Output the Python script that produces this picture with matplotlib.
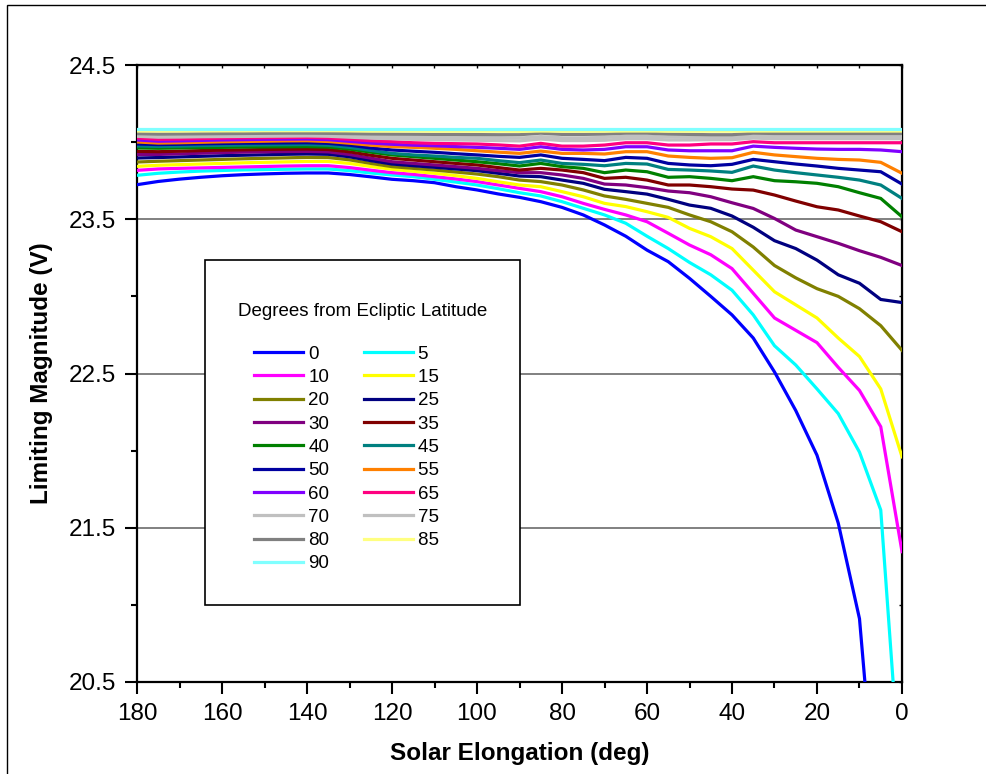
import matplotlib
matplotlib.use("Agg")
import matplotlib.pyplot as plt
from matplotlib.patches import Rectangle
from matplotlib.ticker import MultipleLocator, FixedLocator

plt.rcParams['font.family'] = ['Liberation Sans', 'DejaVu Sans']

# ---------------- data ----------------
elongation = [180, 175, 170, 165, 160, 155, 150, 145, 140, 135, 130, 125, 120,
              115, 110, 105, 100, 95, 90, 85, 80, 75, 70, 65, 60, 55, 50, 45,
              40, 35, 30, 25, 20, 15, 10, 5, 0]

latitudes = ["0", "5", "10", "15", "20", "25", "30", "35", "40", "45",
             "50", "55", "60", "65", "70", "75", "80", "85", "90"]

colors = ['#0000FF', '#00FFFF', '#FF00FF', '#FFFF00', '#808000', '#000080',
          '#800080', '#800000', '#008000', '#008080', '#0000A0', '#FF8000',
          '#8000FF', '#FF0080', '#C0C0C0', '#C0C0C0', '#808080', '#FFFF80',
          '#80FFFF']

mag_00 = [23.724, 23.745, 23.760, 23.772, 23.782, 23.789, 23.794, 23.798, 23.800,
          23.800, 23.790, 23.775, 23.759, 23.750, 23.737, 23.711, 23.690, 23.664,
          23.642, 23.614, 23.577, 23.528, 23.463, 23.390, 23.300, 23.225, 23.117,
          23.000, 22.880, 22.730, 22.510, 22.260, 21.970, 21.530, 20.910, 19.300,
          17.500]
mag_05 = [23.785, 23.798, 23.806, 23.812, 23.816, 23.820, 23.822, 23.824, 23.826,
          23.826, 23.815, 23.800, 23.787, 23.776, 23.759, 23.741, 23.722, 23.698,
          23.672, 23.651, 23.614, 23.571, 23.528, 23.474, 23.390, 23.310, 23.220,
          23.140, 23.040, 22.880, 22.680, 22.555, 22.400, 22.240, 21.990, 21.615,
          19.700]
mag_10 = [23.817, 23.826, 23.830, 23.833, 23.836, 23.839, 23.842, 23.845, 23.847,
          23.847, 23.835, 23.818, 23.802, 23.791, 23.776, 23.761, 23.744, 23.722,
          23.700, 23.679, 23.646, 23.603, 23.564, 23.528, 23.484, 23.409, 23.333,
          23.270, 23.180, 23.020, 22.860, 22.780, 22.700, 22.540, 22.390, 22.155,
          21.345]
mag_15 = [23.843, 23.850, 23.854, 23.858, 23.862, 23.866, 23.869, 23.872, 23.875,
          23.875, 23.862, 23.842, 23.824, 23.811, 23.798, 23.783, 23.765, 23.743,
          23.722, 23.711, 23.679, 23.646, 23.603, 23.582, 23.549, 23.512, 23.441,
          23.387, 23.310, 23.170, 23.030, 22.945, 22.860, 22.730, 22.610, 22.400,
          21.960]
mag_20 = [23.871, 23.876, 23.880, 23.884, 23.888, 23.892, 23.895, 23.898, 23.901,
          23.900, 23.885, 23.862, 23.841, 23.830, 23.819, 23.806, 23.793, 23.776,
          23.754, 23.744, 23.722, 23.690, 23.651, 23.629, 23.603, 23.577, 23.528,
          23.484, 23.419, 23.320, 23.200, 23.120, 23.050, 23.000, 22.920, 22.810,
          22.650]
mag_25 = [23.897, 23.900, 23.904, 23.908, 23.912, 23.915, 23.918, 23.921, 23.923,
          23.921, 23.905, 23.880, 23.858, 23.847, 23.837, 23.826, 23.815, 23.798,
          23.780, 23.776, 23.754, 23.733, 23.694, 23.679, 23.663, 23.629, 23.592,
          23.571, 23.521, 23.448, 23.361, 23.310, 23.235, 23.140, 23.085, 22.980,
          22.960]
mag_30 = [23.919, 23.920, 23.924, 23.928, 23.932, 23.935, 23.937, 23.939, 23.940,
          23.937, 23.920, 23.896, 23.873, 23.862, 23.852, 23.841, 23.830, 23.815,
          23.802, 23.802, 23.787, 23.765, 23.728, 23.722, 23.705, 23.683, 23.672,
          23.646, 23.607, 23.570, 23.505, 23.430, 23.387, 23.344, 23.296, 23.253,
          23.200]
mag_35 = [23.940, 23.938, 23.941, 23.945, 23.948, 23.950, 23.952, 23.954, 23.955,
          23.952, 23.937, 23.915, 23.895, 23.884, 23.873, 23.862, 23.852, 23.835,
          23.819, 23.830, 23.819, 23.802, 23.765, 23.772, 23.754, 23.722, 23.722,
          23.711, 23.696, 23.689, 23.657, 23.618, 23.581, 23.560, 23.521, 23.484,
          23.419]
mag_40 = [23.962, 23.960, 23.962, 23.964, 23.966, 23.968, 23.969, 23.970, 23.971,
          23.968, 23.955, 23.935, 23.917, 23.906, 23.895, 23.884, 23.873, 23.860,
          23.845, 23.862, 23.841, 23.830, 23.802, 23.819, 23.808, 23.772, 23.776,
          23.765, 23.750, 23.776, 23.750, 23.743, 23.733, 23.711, 23.672, 23.635,
          23.516]
mag_45 = [23.975, 23.972, 23.974, 23.977, 23.979, 23.981, 23.982, 23.983, 23.984,
          23.980, 23.966, 23.946, 23.927, 23.917, 23.910, 23.901, 23.895, 23.880,
          23.867, 23.884, 23.862, 23.856, 23.847, 23.862, 23.858, 23.823, 23.819,
          23.813, 23.804, 23.845, 23.819, 23.802, 23.787, 23.772, 23.754, 23.722,
          23.635]
mag_50 = [23.988, 23.984, 23.986, 23.989, 23.991, 23.993, 23.994, 23.995, 23.996,
          23.992, 23.980, 23.962, 23.949, 23.941, 23.934, 23.925, 23.917, 23.908,
          23.901, 23.917, 23.895, 23.888, 23.880, 23.901, 23.895, 23.862, 23.852,
          23.847, 23.856, 23.888, 23.873, 23.858, 23.845, 23.830, 23.819, 23.808,
          23.728]
mag_55 = [24.001, 23.994, 23.996, 23.999, 24.002, 24.004, 24.006, 24.008, 24.009,
          24.004, 23.993, 23.980, 23.971, 23.966, 23.960, 23.953, 23.944, 23.935,
          23.927, 23.942, 23.927, 23.927, 23.923, 23.938, 23.938, 23.910, 23.901,
          23.895, 23.899, 23.934, 23.917, 23.906, 23.895, 23.888, 23.884, 23.869,
          23.798]
mag_60 = [24.014, 24.006, 24.008, 24.011, 24.014, 24.016, 24.018, 24.019, 24.020,
          24.016, 24.005, 23.994, 23.986, 23.980, 23.976, 23.971, 23.966, 23.960,
          23.953, 23.970, 23.953, 23.949, 23.953, 23.970, 23.970, 23.949, 23.944,
          23.944, 23.944, 23.974, 23.966, 23.960, 23.955, 23.953, 23.953, 23.949,
          23.938]
mag_65 = [24.027, 24.018, 24.020, 24.023, 24.026, 24.028, 24.029, 24.030, 24.031,
          24.027, 24.018, 24.009, 24.003, 23.996, 23.992, 23.990, 23.988, 23.982,
          23.974, 23.992, 23.974, 23.974, 23.981, 23.996, 23.996, 23.981, 23.981,
          23.988, 23.988, 24.003, 23.996, 23.996, 23.996, 23.996, 23.996, 23.996,
          23.996]
mag_70 = [24.038, 24.032, 24.033, 24.035, 24.036, 24.037, 24.038, 24.039, 24.040,
          24.038, 24.032, 24.026, 24.022, 24.018, 24.016, 24.014, 24.012, 24.010,
          24.008, 24.020, 24.010, 24.010, 24.012, 24.022, 24.022, 24.014, 24.014,
          24.016, 24.016, 24.026, 24.022, 24.022, 24.022, 24.022, 24.022, 24.022,
          24.022]
mag_75 = [24.046, 24.042, 24.043, 24.045, 24.046, 24.047, 24.048, 24.049, 24.050,
          24.048, 24.044, 24.040, 24.036, 24.033, 24.031, 24.030, 24.029, 24.028,
          24.026, 24.036, 24.028, 24.028, 24.030, 24.038, 24.038, 24.032, 24.031,
          24.032, 24.032, 24.040, 24.038, 24.038, 24.038, 24.038, 24.038, 24.038,
          24.038]
mag_80 = [24.055, 24.052, 24.053, 24.054, 24.055, 24.056, 24.057, 24.058, 24.058,
          24.057, 24.055, 24.053, 24.052, 24.051, 24.050, 24.050, 24.049, 24.048,
          24.048, 24.058, 24.050, 24.050, 24.052, 24.058, 24.058, 24.052, 24.050,
          24.048, 24.048, 24.058, 24.056, 24.056, 24.056, 24.056, 24.056, 24.056,
          24.056]
mag_85 = [24.072, 24.072, 24.072, 24.073, 24.073, 24.073, 24.074, 24.074, 24.074,
          24.074, 24.073, 24.072, 24.072, 24.072, 24.071, 24.071, 24.071, 24.071,
          24.070, 24.072, 24.071, 24.071, 24.071, 24.072, 24.072, 24.071, 24.071,
          24.071, 24.071, 24.072, 24.072, 24.072, 24.072, 24.072, 24.072, 24.072,
          24.072]
mag_90 = [24.088, 24.088, 24.088, 24.088, 24.088, 24.088, 24.088, 24.088, 24.088,
          24.088, 24.088, 24.088, 24.088, 24.088, 24.088, 24.088, 24.088, 24.088,
          24.088, 24.088, 24.088, 24.088, 24.088, 24.088, 24.088, 24.088, 24.088,
          24.088, 24.088, 24.088, 24.088, 24.088, 24.088, 24.088, 24.088, 24.088,
          24.088]

series = [mag_00, mag_05, mag_10, mag_15, mag_20, mag_25, mag_30, mag_35, mag_40,
          mag_45, mag_50, mag_55, mag_60, mag_65, mag_70, mag_75, mag_80, mag_85,
          mag_90]

x_ticks = [180, 160, 140, 120, 100, 80, 60, 40, 20, 0]
y_ticks = [20.5, 21.5, 22.5, 23.5, 24.5]

# ---------------- figure ----------------
W, H = 987, 774
fig = plt.figure(figsize=(W / 100, H / 100), dpi=100)
ax = fig.add_axes([137 / W, 1 - 682 / H, (902 - 137) / W, (682 - 65) / H])

lines = []
for vals, lab, col in zip(series, latitudes, colors):
    ln, = ax.plot(elongation, vals, color=col, lw=2.3, label=lab,
                  solid_joinstyle='miter', zorder=3)
    lines.append(ln)

ax.set_xlim(180, 0)
ax.set_ylim(20.5, 24.5)

ax.xaxis.set_major_locator(FixedLocator(x_ticks))
ax.xaxis.set_minor_locator(MultipleLocator(10))
ax.yaxis.set_major_locator(FixedLocator(y_ticks))
ax.yaxis.set_minor_locator(MultipleLocator(0.5))
ax.set_yticklabels([f"{v:.1f}" for v in y_ticks])

ax.tick_params(axis='both', which='major', direction='out', length=8.6, width=1.5,
               labelsize=17.5)
ax.tick_params(axis='y', which='major', pad=6.5)
ax.tick_params(axis='x', which='major', pad=6.5)
ax.tick_params(axis='both', which='minor', direction='out', length=4.5, width=1.5)

ax.grid(axis='y', which='major', color='#808080', lw=1.4, zorder=1)
for s in ax.spines.values():
    s.set_linewidth(1.6)

# inward small ticks on top/right
top = ax.secondary_xaxis('top')
top.xaxis.set_major_locator(MultipleLocator(10))
top.tick_params(direction='in', length=2.5, width=1.0, labeltop=False)
right = ax.secondary_yaxis('right')
right.yaxis.set_major_locator(MultipleLocator(0.5))
right.tick_params(direction='in', length=2.5, width=1.0, labelright=False)

ax.set_xlabel("Solar Elongation (deg)", fontsize=17.5, fontweight='bold', labelpad=12)
ax.set_ylabel("Limiting Magnitude (V)", fontsize=17.5, fontweight='bold', labelpad=11)

# legend: column-wise fill -> 0,10,...,90 then 5,15,...,85
order = list(range(0, 19, 2)) + list(range(1, 19, 2))
pad_right = "      "
labels = [latitudes[i] for i in order]
labels = labels[:10] + [lab + pad_right for lab in labels[10:]]
leg = ax.legend([lines[i] for i in order], labels,
                ncol=2, title="\nDegrees from Ecliptic Latitude\n\n",
                loc='upper left', bbox_to_anchor=((205 - 137) / 765, (682 - 260) / 617),
                borderaxespad=0, fontsize=13.5, title_fontsize=13.5,
                frameon=True, fancybox=False, framealpha=1, edgecolor='black',
                borderpad=1.75, labelspacing=0.33, handlelength=2.6,
                handletextpad=0.3, columnspacing=1.85)
leg.get_title().set_linespacing(0.45)
leg.get_frame().set_linewidth(1.2)
leg.set_zorder(5)

# outer border of the original figure
fig.add_artist(Rectangle((7.5 / W, -0.5), 1.2, 1.5 - 4.5 / H, transform=fig.transFigure,
                         fill=False, edgecolor='black', lw=1.0, clip_on=False))

fig.savefig("out.png", dpi=100)
